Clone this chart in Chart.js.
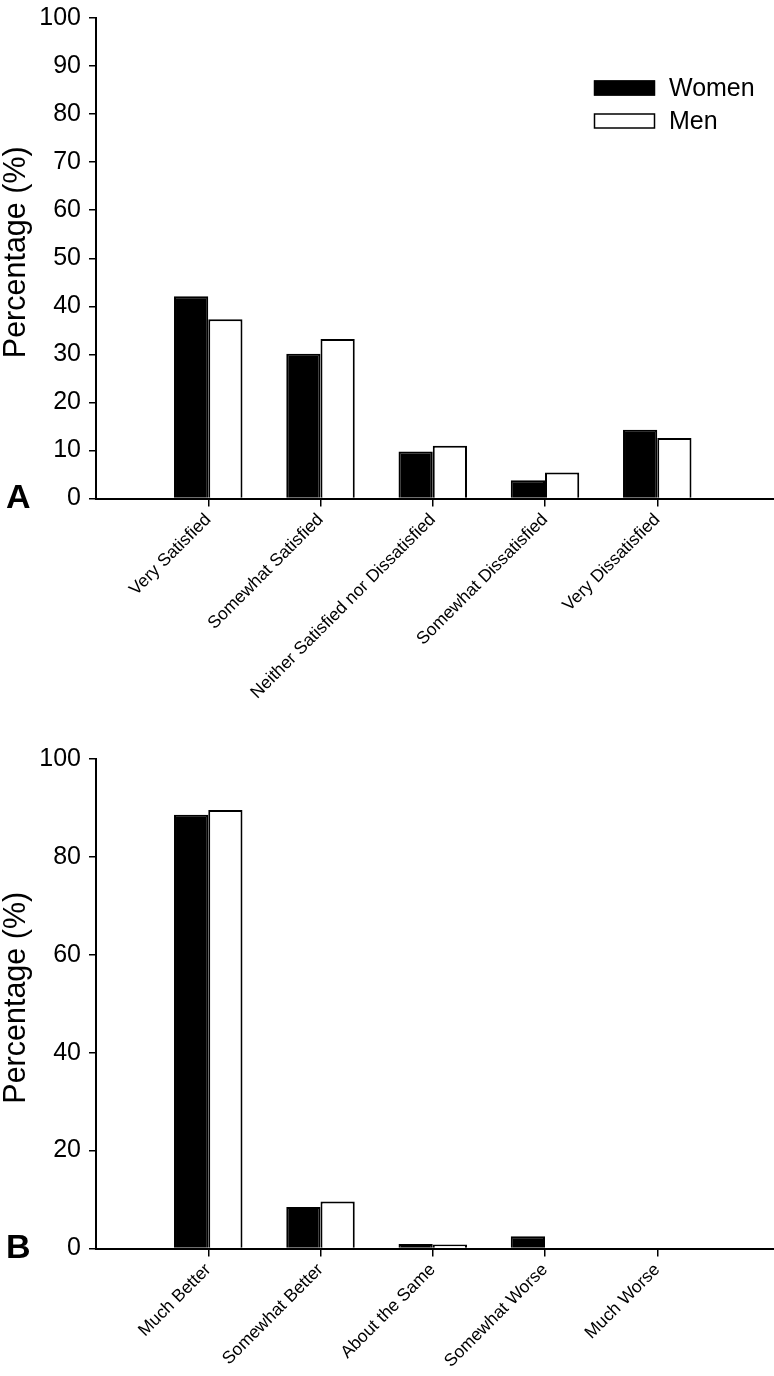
<!DOCTYPE html>
<html><head><meta charset="utf-8">
<script src="https://cdn.jsdelivr.net/npm/chart.js@4.4.1/dist/chart.umd.min.js"></script>
<style>
html,body{margin:0;padding:0;background:#fff;overflow:hidden;}
#wa{position:absolute;left:0;top:0;width:774px;height:740px;}
#wb{position:absolute;left:0;top:740px;width:774px;height:636px;}
</style></head><body>
<div id="wa"><canvas id="ca"></canvas></div>
<div id="wb"><canvas id="cb"></canvas></div>
<script>
const seriesNames = ['Women', 'Men'];
const categoriesA = ['Very Satisfied', 'Somewhat Satisfied', 'Neither Satisfied nor Dissatisfied', 'Somewhat Dissatisfied', 'Very Dissatisfied'];
const womenA = [42.1, 30.1, 9.8, 3.8, 14.3];
const menA = [37.3, 33.2, 11.0, 5.4, 12.6];
const yTicksA = [0, 10, 20, 30, 40, 50, 60, 70, 80, 90, 100];

const categoriesB = ['Much Better', 'Somewhat Better', 'About the Same', 'Somewhat Worse', 'Much Worse'];
const womenB = [88.6, 8.5, 0.9, 2.5, 0];
const menB = [89.6, 9.6, 0.8, 0, 0];
const yTicksB = [0, 20, 40, 60, 80, 100];

const yTitle = 'Percentage (%)';
const FONT = "'Liberation Sans', Arial, Helvetica, sans-serif";
Chart.defaults.font.family = FONT;
Chart.defaults.color = '#000';

function makeChart(id, cats, women, men, yTicks, letter, letterY, showLegend, padTop, xHeight) {
  const toPts = arr => arr.map((v, i) => ({ x: i + 1, y: v }));
  const overlay = {
    id: 'overlay',
    afterDraw(chart) {
      const ctx = chart.ctx;
      const area = chart.chartArea;
      ctx.save();
      ctx.fillStyle = '#000';
      // y-axis title
      ctx.save();
      ctx.font = '30.5px ' + FONT;
      ctx.textAlign = 'center';
      ctx.textBaseline = 'middle';
      ctx.translate(17, (area.top + area.bottom) / 2 - 6);
      ctx.rotate(-Math.PI / 2);
      ctx.fillText(yTitle, 0, 0);
      ctx.restore();
      // panel letter
      ctx.font = 'bold 34px ' + FONT;
      ctx.textBaseline = 'alphabetic';
      ctx.textAlign = 'left';
      ctx.fillText(letter, 6, letterY);
      if (showLegend) {
        const ds = chart.data.datasets;
        const rows = [88, 121];
        ctx.font = '25px ' + FONT;
        ctx.textBaseline = 'middle';
        ds.forEach((d, i) => {
          const y = rows[i];
          ctx.fillStyle = d.backgroundColor;
          ctx.fillRect(594, y - 7.5, 61, 15);
          ctx.strokeStyle = d.borderColor;
          ctx.lineWidth = 1.5;
          ctx.strokeRect(594.5, y - 7, 60, 14);
          ctx.fillStyle = '#000';
          ctx.fillText(d.label, 669, y + 1);
        });
      }
      ctx.restore();
    }
  };
  return new Chart(document.getElementById(id), {
    type: 'bar',
    data: {
      datasets: [
        { label: seriesNames[0], data: toPts(women), backgroundColor: '#000', borderColor: '#000', borderWidth: 2 },
        { label: seriesNames[1], data: toPts(men), backgroundColor: '#fff', borderColor: '#000', borderWidth: 2 }
      ]
    },
    options: {
      responsive: true,
      maintainAspectRatio: false,
      devicePixelRatio: 1,
      animation: false,
      categoryPercentage: 0.61,
      barPercentage: 1,
      layout: { padding: { top: padTop, left: 0, right: 0, bottom: 0 } },
      plugins: { legend: { display: false }, tooltip: { enabled: false } },
      scales: {
        x: {
          type: 'linear',
          min: 0,
          max: 6.04,
          offset: false,
          z: 1,
          afterFit(s) { s.height = xHeight; },
          afterBuildTicks(s) { s.ticks = cats.map((c, i) => ({ value: i + 1 })); },
          grid: { display: true, drawOnChartArea: false, drawTicks: true, tickLength: 8, color: '#000', lineWidth: 1.5, offset: false },
          border: { display: true, color: '#000', width: 2 },
          ticks: {
            autoSkip: false, minRotation: 45, maxRotation: 45, padding: 3,
            font: { size: 17.5 }, color: '#000',
            callback: v => cats[Math.round(v) - 1]
          }
        },
        y: {
          min: 0, max: 100,
          z: 1,
          afterFit(s) { s.width = 96; },
          afterBuildTicks(s) { s.ticks = yTicks.map(v => ({ value: v })); },
          grid: { display: true, drawOnChartArea: false, drawTicks: true, tickLength: 7, color: '#000', lineWidth: 1.5 },
          border: { display: true, color: '#000', width: 2 },
          ticks: { font: { size: 25, lineHeight: 0.8 }, color: '#000', padding: 8 },
          title: { display: false }
        }
      }
    },
    plugins: [overlay]
  });
}

makeChart('ca', categoriesA, womenA, menA, yTicksA, 'A', 508, true, 10, 241.5);
makeChart('cb', categoriesB, womenB, menB, yTicksB, 'B', 518, false, 19, 127.5);
</script>
</body></html>
